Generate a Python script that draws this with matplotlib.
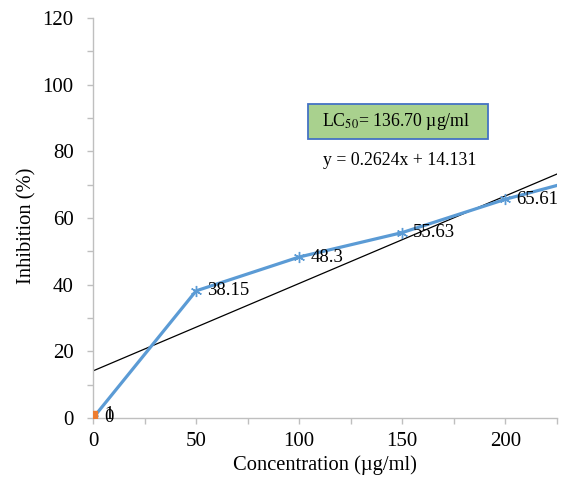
import matplotlib
matplotlib.use('Agg')
import matplotlib.pyplot as plt
import numpy as np
from matplotlib.patches import Rectangle
from matplotlib.ticker import MultipleLocator

plt.rcParams['font.family'] = ['Liberation Serif', 'DejaVu Serif']
plt.rcParams['mathtext.fontset'] = 'stix'

# Datos
conc = [0, 50, 100, 150, 200, 250]
inhib = [0, 38.15, 48.3, 55.63, 65.61, 73.9]
labels = ['0', '38.15', '48.3', '55.63', '65.61', '73.9']
lc_x = [0]
lc_y = [1]
lc_labels = ['1']
slope, intercept = 0.2624, 14.131

blue = '#5b9bd5'
orange = '#ed7d31'
gray = '#bfbfbf'

fig = plt.figure(figsize=(5.71, 4.83), dpi=100)
ax = fig.add_axes([0.163, 0.1346, 0.812, 0.828])

# Línea de tendencia
xt = np.array([0, 225])
ax.plot(xt, slope * xt + intercept, color='black', lw=0.9, zorder=2)

# Serie principal
ax.plot(conc, inhib, color=blue, lw=2.3, marker=(6, 2, 0), markersize=8,
        mec=blue, mew=1, zorder=3)
ax.plot(lc_x, lc_y, ls='none', marker='s', markersize=6, color=orange, zorder=4)

for x, y, t in zip(conc, inhib, labels):
    if x <= 225:
        ax.annotate(t, (x, y), xytext=(8, 0), textcoords='offset points',
                    va='center', ha='left', fontsize=13.5)
for x, y, t in zip(lc_x, lc_y, lc_labels):
    ax.annotate(t, (x, y), xytext=(8, 0), textcoords='offset points',
                va='center', ha='left', fontsize=13.5)

ax.set_xlim(0, 225)
ax.set_ylim(0, 120)
ax.xaxis.set_major_locator(MultipleLocator(50))
ax.xaxis.set_minor_locator(MultipleLocator(25))
ax.yaxis.set_major_locator(MultipleLocator(20))
ax.yaxis.set_minor_locator(MultipleLocator(10))

for s in ['top', 'right']:
    ax.spines[s].set_visible(False)
for s in ['left', 'bottom']:
    ax.spines[s].set_color(gray)
    ax.spines[s].set_linewidth(1)
ax.tick_params(which='both', direction='out', length=4, color=gray, width=1,
               labelsize=15)
ax.tick_params(axis='x', pad=6)
ax.tick_params(axis='y', pad=10)

ax.set_xlabel('Concentration (µg/ml)', fontsize=14.8, labelpad=3)
ax.set_ylabel('Inhibition (%)', fontsize=14.8)
ax.yaxis.set_label_coords(-0.122, 0.48)

# Cuadro de LC50
fig.patches.append(Rectangle((0.5394, 0.7122), 0.3152, 0.0725, transform=fig.transFigure,
                             facecolor='#a9d18e', edgecolor='#4472c4', lw=1.3))
fig.text(0.564, 0.749, r'LC$_{50}$= 136.70 µg/ml', fontsize=12.8, va='center', ha='left')
fig.text(0.566, 0.668, 'y = 0.2624x + 14.131', fontsize=12.8, va='center', ha='left')

fig.savefig('out.png', dpi=100)
